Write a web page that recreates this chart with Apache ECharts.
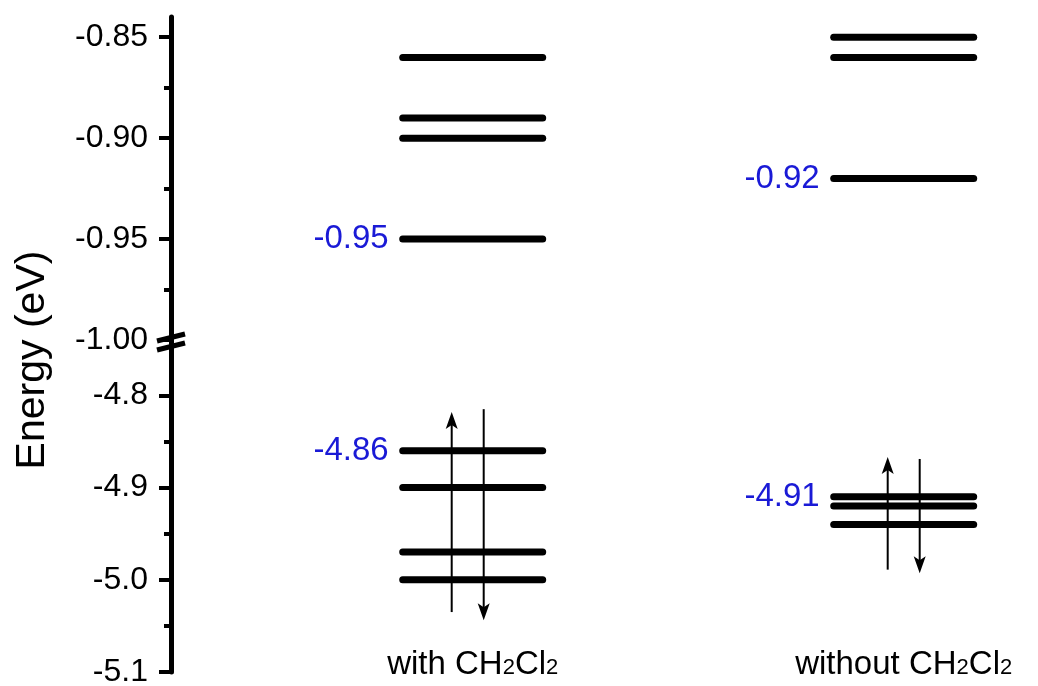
<!DOCTYPE html>
<html>
<head>
<meta charset="utf-8">
<script src="https://cdn.jsdelivr.net/npm/echarts@6/dist/echarts.min.js"></script>
<style>
  html, body { margin: 0; background: #fff; }
  #main { width: 1038px; height: 686px; }
</style>
</head>
<body>
<div id="main"></div>
<script>
// x groups
const groups = ['with CH2Cl2', 'without CH2Cl2'];
// upper part of the broken axis (eV)
const withUpper = [-0.86, -0.89, -0.90, -0.95];
const withoutUpper = [-0.85, -0.86, -0.92];
// lower part (eV)
const withLower = [-4.86, -4.90, -4.97, -5.00];
const withoutLower = [-4.91, -4.92, -4.94];
// spin arrows [from, to]
const withArrows = [[-5.035, -4.818], [-4.815, -5.044]];
const withoutArrows = [[-4.989, -4.867], [-4.869, -4.993]];
// ticks
const upperTicks = [-1.00, -0.95, -0.90, -0.85];
const upperMinor = [-0.975, -0.925, -0.875];
const lowerTicks = [-5.1, -5.0, -4.9, -4.8];
const lowerMinor = [-5.05, -4.95, -4.85];

const FONT = '"Liberation Sans", Arial, sans-serif';
const BLUE = '#1a1ad6';
const ARROW_DX = [[-21, 11], [-16, 16]];

// level data: [group, energy, labelled]
const levelRows = (g, arr, pick) => {
  const m = pick(...arr);
  return arr.map(v => [g, v, v === m ? 1 : 0]);
};
const upperData = [...levelRows(0, withUpper, Math.min), ...levelRows(1, withoutUpper, Math.min)];
const lowerData = [...levelRows(0, withLower, Math.max), ...levelRows(1, withoutLower, Math.max)];
const arrowData = [
  ...withArrows.map(a => [0, a[0], a[1]]),
  ...withoutArrows.map(a => [1, a[0], a[1]])
];

const renderLevel = (params, api) => {
  const p = api.coord([api.value(0), api.value(1)]);
  const children = [{
    type: 'line',
    shape: { x1: p[0] - 70, y1: p[1], x2: p[0] + 70, y2: p[1] },
    style: { stroke: '#000', lineWidth: 7, lineCap: 'round' }
  }];
  if (api.value(2)) {
    children.push({
      type: 'text', x: p[0] - 84, y: p[1],
      style: { text: api.value(1).toFixed(2), align: 'right', verticalAlign: 'middle',
               fontSize: 33, fontFamily: FONT, fill: BLUE }
    });
  }
  return { type: 'group', children };
};

const renderArrow = (params, api) => {
  const g = api.value(0);
  const a = api.coord([g, api.value(1)]);
  const b = api.coord([g, api.value(2)]);
  const up = api.value(2) > api.value(1);
  const x = a[0] + ARROW_DX[g][up ? 0 : 1];
  const s = up ? 1 : -1;
  return {
    type: 'group',
    children: [
      { type: 'line', shape: { x1: x, y1: a[1], x2: x, y2: b[1] + s * 10 },
        style: { stroke: '#000', lineWidth: 2 } },
      { type: 'polygon',
        shape: { points: [[x, b[1]], [x - 6, b[1] + s * 17], [x, b[1] + s * 13], [x + 6, b[1] + s * 17]] },
        style: { fill: '#000' } }
    ]
  };
};

const yMain = (gridIndex, min, max, ticks, digits) => ({
  type: 'value', gridIndex, min, max, position: 'left',
  axisLine: { show: true, onZero: false, lineStyle: { color: '#000', width: 5 } },
  axisTick: { show: true, length: 12, customValues: ticks, lineStyle: { color: '#000', width: 4 } },
  axisLabel: { show: true, customValues: ticks, margin: 23, color: '#000',
               fontSize: 32, fontFamily: FONT, formatter: v => v.toFixed(digits) },
  splitLine: { show: false }
});
const yMinor = (gridIndex, min, max, ticks) => ({
  type: 'value', gridIndex, min, max, position: 'left',
  axisLine: { show: false, onZero: false },
  axisTick: { show: true, length: 7, customValues: ticks, lineStyle: { color: '#000', width: 4 } },
  axisLabel: { show: false },
  splitLine: { show: false }
});

// "CH2Cl2" -> subscript digits
const richName = name => name.split(/(\d)/).filter(Boolean)
  .map(p => /\d/.test(p) ? '{s|' + p + '}' : '{m|' + p + '}').join('');

const chart = echarts.init(document.getElementById('main'));
chart.setOption({
  animation: false,
  backgroundColor: '#fff',
  grid: [
    { left: 171, right: 5, top: 17, height: 323, outerBoundsMode: 'none' },
    { left: 171, right: 5, top: 340, height: 332, outerBoundsMode: 'none' }
  ],
  xAxis: [
    { type: 'value', gridIndex: 0, min: -0.7, max: 1.3, show: false },
    {
      type: 'value', gridIndex: 1, min: -0.7, max: 1.3,
      axisLine: { show: false, onZero: false }, axisTick: { show: false }, splitLine: { show: false },
      axisLabel: {
        customValues: [0, 1], margin: -27,
        formatter: v => richName(groups[Math.round(v)]),
        rich: {
          m: { fontSize: 33, fontFamily: FONT, color: '#000', lineHeight: 36, verticalAlign: 'bottom' },
          s: { fontSize: 22, fontFamily: FONT, color: '#000', lineHeight: 36, verticalAlign: 'bottom',
               padding: [0, 0, 2, 0] }
        }
      }
    }
  ],
  yAxis: [
    yMain(0, -1.00, -0.84, upperTicks, 2),
    yMinor(0, -1.00, -0.84, upperMinor),
    yMain(1, -5.1, -4.74, lowerTicks, 1),
    yMinor(1, -5.1, -4.74, lowerMinor)
  ],
  series: [
    { type: 'custom', xAxisIndex: 0, yAxisIndex: 0, data: upperData, renderItem: renderLevel },
    { type: 'custom', xAxisIndex: 1, yAxisIndex: 2, data: lowerData, renderItem: renderLevel },
    { type: 'custom', xAxisIndex: 1, yAxisIndex: 2, data: arrowData, renderItem: renderArrow }
  ],
  graphic: [
    { type: 'text', x: 33, y: 360, rotation: Math.PI / 2,
      style: { text: 'Energy (eV)', fontSize: 41, fontFamily: FONT, fill: '#000',
               align: 'center', verticalAlign: 'middle' } },
    // axis break marks
    { type: 'line', shape: { x1: 157, y1: 341, x2: 185, y2: 334 }, style: { stroke: '#000', lineWidth: 5 } },
    { type: 'line', shape: { x1: 157, y1: 350, x2: 185, y2: 343 }, style: { stroke: '#000', lineWidth: 5 } }
  ]
});
</script>
</body>
</html>
